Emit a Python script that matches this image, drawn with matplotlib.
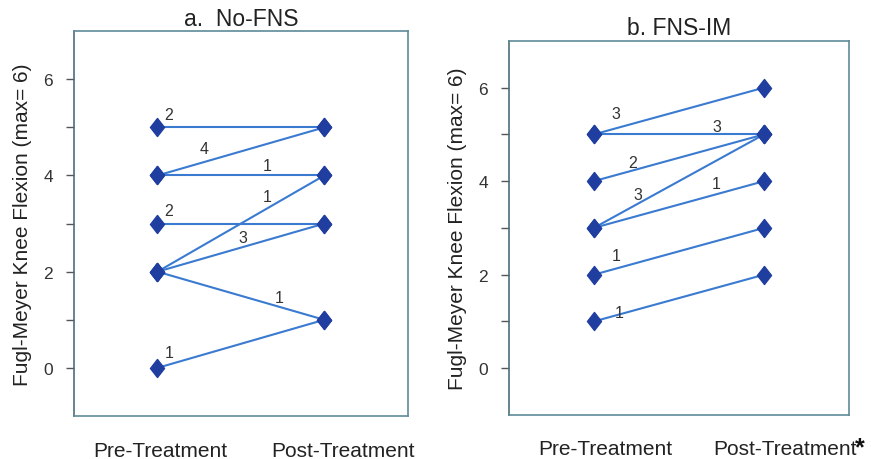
import matplotlib.pyplot as plt
from matplotlib.path import Path
import numpy as np

plt.rcParams['font.family'] = ['Liberation Sans', 'DejaVu Sans']

# No-FNS group: pre score, post score, number of subjects
nofns_pre = [5, 4, 4, 2, 3, 2, 2, 0]
nofns_post = [5, 5, 4, 4, 3, 3, 1, 1]
nofns_n = [2, 4, 1, 1, 2, 3, 1, 1]

# FNS-IM group
fnsim_pre = [5, 5, 4, 3, 3, 2, 1]
fnsim_post = [6, 5, 5, 5, 4, 3, 2]
fnsim_n = [3, 3, 2, 3, 1, 1, 1]

# where along each line the count label sits (fraction), and offset in points
nofns_lab = [(0.07, 4), (0.28, 4), (0.66, 2), (0.66, 3), (0.07, 4), (0.51, 1.5), (0.73, 1.5), (0.07, 3.5)]
fnsim_lab = [(0.13, 5), (0.72, 0.5), (0.23, 0.5), (0.26, 1.5), (0.72, 2), (0.13, 4), (0.15, -4)]

line_c = '#3a7ad0'
mark_c = '#1f3ea0'
spine_c = '#5f8a98'

diamond = Path([(0, 1), (0.78, 0), (0, -1), (-0.78, 0), (0, 1)],
               [Path.MOVETO, Path.LINETO, Path.LINETO, Path.LINETO, Path.CLOSEPOLY])

fig = plt.figure(figsize=(8.71, 4.60), dpi=100)
ax1 = fig.add_axes([0.085, 0.0935, 0.383, 0.8365])
ax2 = fig.add_axes([0.584, 0.0957, 0.391, 0.8133])


def panel(ax, pre, post, n, lab, title, title_y, xlabels):
    for i in range(len(pre)):
        ax.plot([0, 1], [pre[i], post[i]], color=line_c, lw=1.5, zorder=2)
    ax.plot(np.zeros(len(pre)), pre, ls='none', marker=diamond, ms=13,
            color=mark_c, zorder=3)
    ax.plot(np.ones(len(post)), post, ls='none', marker=diamond, ms=13,
            color=mark_c, zorder=3)
    for i in range(len(pre)):
        f, dy = lab[i]
        y = pre[i] + f * (post[i] - pre[i])
        ax.annotate(str(n[i]), (f, y), xytext=(0, dy), textcoords='offset points',
                    ha='center', va='bottom', fontsize=11.5, color='#333333')
    ax.set_xlim(-0.5, 1.5)
    ax.set_ylim(-1, 7)
    ax.set_yticks(range(0, 7))
    ax.set_yticklabels(['0', '', '2', '', '4', '', '6'])
    ax.set_xticks([])
    ax.tick_params(axis='y', direction='out', length=6, width=1, color='#555555',
                   labelsize=12.5, labelcolor='#333333', pad=9)
    for s in ax.spines.values():
        s.set_color(spine_c)
        s.set_linewidth(1.2)
    ax.spines['left'].set_color('#4a6f7a')
    ax.set_ylabel('Fugl-Meyer Knee Flexion (max= 6)', fontsize=15,
                  color='#222222', labelpad=8)
    ax.set_title(title, fontsize=16.5, color='#222222', y=title_y)
    for xpos, txt in xlabels:
        ax.text(xpos, -0.065, txt, transform=ax.transAxes, ha='center',
                va='top', fontsize=15, color='#222222')


panel(ax1, nofns_pre, nofns_post, nofns_n, nofns_lab, 'a.  No-FNS', 0.995,
      [(0.26, 'Pre-Treatment'), (0.805, 'Post-Treatment')])
panel(ax2, fnsim_pre, fnsim_post, fnsim_n, fnsim_lab, 'b. FNS-IM', 0.995,
      [(0.285, 'Pre-Treatment'), (0.81, 'Post-Treatment')])
ax2.text(1.03, -0.055, '*', transform=ax2.transAxes, ha='center', va='top',
         fontsize=18, fontweight='bold', color='#111111')

fig.savefig('out.png', dpi=100)
